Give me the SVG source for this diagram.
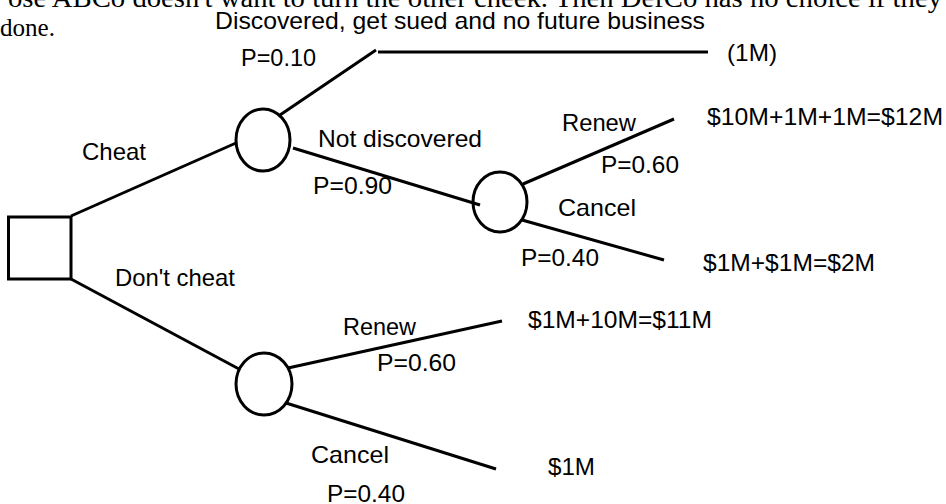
<svg xmlns="http://www.w3.org/2000/svg" width="946" height="504" viewBox="0 0 946 504">
<style>
.ln{stroke:#000;stroke-width:3;fill:none;stroke-linecap:butt}
.nd{stroke:#000;stroke-width:3;fill:none}
.t{font-family:"Liberation Sans",Arial,sans-serif;font-size:24px;fill:#000}
.s{font-family:"Liberation Serif","Times New Roman",serif;font-size:28px;fill:#000}
</style>
<rect width="946" height="504" fill="#fff"/>
<g id="page-text">
<text class="s" x="8" y="7" textLength="934" lengthAdjust="spacingAndGlyphs">ose ABCo doesn't want to turn the other cheek. Then DefCo has no choice if they</text>
<text class="s" x="0" y="36" textLength="55" lengthAdjust="spacingAndGlyphs" style="font-size:25px">done.</text>
</g>
<g id="connectors">
<line class="ln" x1="71" y1="216" x2="236" y2="143"/>
<line class="ln" x1="280" y1="115" x2="376" y2="50"/>
<line class="ln" x1="378" y1="52" x2="708" y2="52"/>
<line class="ln" x1="293" y1="148" x2="480" y2="205"/>
<line class="ln" x1="523" y1="184" x2="674" y2="119"/>
<line class="ln" x1="522" y1="220" x2="664" y2="260"/>
<line class="ln" x1="71" y1="279" x2="239" y2="369"/>
<line class="ln" x1="288" y1="368" x2="502" y2="321"/>
<line class="ln" x1="286" y1="403" x2="496" y2="469"/>
</g>
<g id="decision">
<rect class="nd" x="8.5" y="217" width="62.5" height="62"/>
</g>
<g id="chance-cheat">
<ellipse class="nd" cx="263" cy="140" rx="27" ry="31"/>
</g>
<g id="chance-not-discovered">
<ellipse class="nd" cx="500" cy="202" rx="27" ry="30"/>
</g>
<g id="chance-dont-cheat">
<ellipse class="nd" cx="264" cy="384" rx="28" ry="31"/>
</g>
<g id="labels">
<text class="t" x="215" y="29" textLength="490" lengthAdjust="spacingAndGlyphs">Discovered, get sued and no future business</text>
<text class="t" x="241" y="66" textLength="75" lengthAdjust="spacingAndGlyphs">P=0.10</text>
<text class="t" x="727" y="61" textLength="50" lengthAdjust="spacingAndGlyphs">(1M)</text>
<text class="t" x="82" y="160" textLength="64" lengthAdjust="spacingAndGlyphs">Cheat</text>
<text class="t" x="318" y="147" textLength="164" lengthAdjust="spacingAndGlyphs">Not discovered</text>
<text class="t" x="313" y="194" textLength="79" lengthAdjust="spacingAndGlyphs">P=0.90</text>
<text class="t" x="562" y="131" textLength="74" lengthAdjust="spacingAndGlyphs">Renew</text>
<text class="t" x="601" y="173" textLength="78" lengthAdjust="spacingAndGlyphs">P=0.60</text>
<text class="t" x="558" y="216" textLength="78" lengthAdjust="spacingAndGlyphs">Cancel</text>
<text class="t" x="521" y="266" textLength="78" lengthAdjust="spacingAndGlyphs">P=0.40</text>
<text class="t" x="707" y="125" textLength="236" lengthAdjust="spacingAndGlyphs">$10M+1M+1M=$12M</text>
<text class="t" x="703" y="271" textLength="172" lengthAdjust="spacingAndGlyphs">$1M+$1M=$2M</text>
<text class="t" x="115" y="286" textLength="120" lengthAdjust="spacingAndGlyphs">Don't cheat</text>
<text class="t" x="343" y="335" textLength="73" lengthAdjust="spacingAndGlyphs">Renew</text>
<text class="t" x="377" y="371" textLength="79" lengthAdjust="spacingAndGlyphs">P=0.60</text>
<text class="t" x="528" y="328" textLength="184" lengthAdjust="spacingAndGlyphs">$1M+10M=$11M</text>
<text class="t" x="311" y="463" textLength="78" lengthAdjust="spacingAndGlyphs">Cancel</text>
<text class="t" x="327" y="502" textLength="78" lengthAdjust="spacingAndGlyphs">P=0.40</text>
<text class="t" x="548" y="475" textLength="47" lengthAdjust="spacingAndGlyphs">$1M</text>
</g>
</svg>
